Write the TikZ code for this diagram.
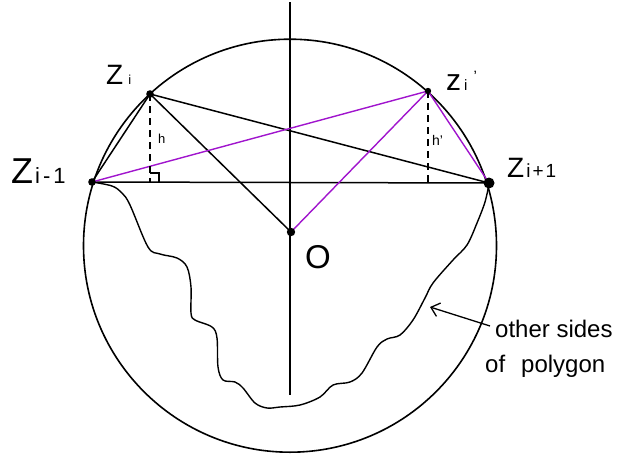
\documentclass[tikz,border=0pt]{standalone}
\usepackage{fontspec}
\setmainfont{Liberation Sans}
\usetikzlibrary{arrows.meta}
\definecolor{purp}{RGB}{160,20,205}
\begin{document}
\begin{tikzpicture}[x=1pt,y=-1pt,
  edge/.style={line width=1.5pt,black},
  pedge/.style={line width=1.4pt,purp},
  dashline/.style={line width=1.1pt,dash pattern=on 7pt off 5pt},
  lbl/.style={inner sep=0pt,anchor=base west}]
\useasboundingbox (0,0) rectangle (621,461);
% points
\coordinate (c) at (290,245.7);
\coordinate (zim1) at (92,182);
\coordinate (zi) at (150,94);
\coordinate (zip) at (428,91);
\coordinate (zip1) at (489,183);
\coordinate (o) at (291,232);
\coordinate (fi) at (150,182);
\coordinate (fip) at (428,182.5);
\coordinate (axtop) at (290,2);
\coordinate (axbot) at (290,395);
\coordinate (arrtail) at (490,326);
\coordinate (arrtip) at (430,307);
% circle and axis
\draw[line width=1.6pt] (c) circle (206.5pt);
\draw[edge] (axtop) -- (axbot);
% wavy other sides
\draw[line width=1.4pt] plot[smooth,tension=0.55] coordinates {
 (92,182) (112,186) (122,193) (130,205) (148,247) (160,254) (177,258) (187,267)
 (191,287) (191,313) (195,320) (212,327) (217,338) (218,367) (223,380) (235,382)
 (243,388) (255,403) (267,408) (280,407) (300,405) (320,397) (333,385) (350,382)
 (362,373) (377,347) (387,339) (400,335) (413,320) (425,298) (433,283) (453,260)
 (467,245) (477,223) (485,202) (489,184)};
% black segments
\draw[edge] (zim1) -- (zip1);
\draw[edge] (zim1) -- (zi);
\draw[edge] (zi) -- (zip1);
\draw[edge] (zi) -- (o);
% purple segments
\draw[pedge] (zim1) -- (zip);
\draw[pedge] (zip) -- (zip1);
\draw[pedge] (zip) -- (o);
% heights
\draw[dashline] (zi) -- (fi);
\draw[dashline] (zip) -- (fip);
\draw[line width=1.1pt] (fi) ++(0,-9) -- ++(9,0) -- ++(0,9);
% dots
\fill (zim1) circle (3.8pt);
\fill (zi) circle (3.8pt);
\fill (zip) circle (3.2pt);
\fill (zip1) circle (5.5pt);
\fill (o) circle (4.2pt);
% labels
\node[lbl] (lzi) at (106,84) {\fontsize{28}{28}\selectfont Z\hspace{5pt}\fontsize{13}{13}\selectfont i};
\node[lbl] (lzim1) at (11,183.5) {\fontsize{36}{36}\selectfont Z\hspace{2pt}\fontsize{22}{22}\selectfont i\hspace{3pt}-\hspace{3pt}1};
\node[lbl] (lzip) at (446,90) {\fontsize{30}{30}\selectfont z\hspace{3pt}\fontsize{15}{15}\selectfont i\hspace{6pt}\raisebox{9pt}{'}};
\node[lbl] (lzip1) at (507,177) {\fontsize{28}{28}\selectfont Z\hspace{2pt}\fontsize{19}{19}\selectfont i\hspace{2pt}+\hspace{2pt}1};
\node[lbl] (lo) at (305,268) {\fontsize{33}{33}\selectfont O};
\node[lbl] (lh) at (158,143) {\fontsize{13}{13}\selectfont h};
\node[lbl] (lhp) at (432,145) {\fontsize{14}{14}\selectfont h'};
\node[lbl] (ltxt1) at (495,337) {\fontsize{24}{24}\selectfont other sides};
\node[lbl] (ltxt2) at (485,372) {\fontsize{24}{24}\selectfont of\hspace{16pt}polygon};
\draw[line width=1.3pt,-{Straight Barb[length=8pt,width=14pt]}] (arrtail) -- (arrtip);
\end{tikzpicture}
\end{document}
